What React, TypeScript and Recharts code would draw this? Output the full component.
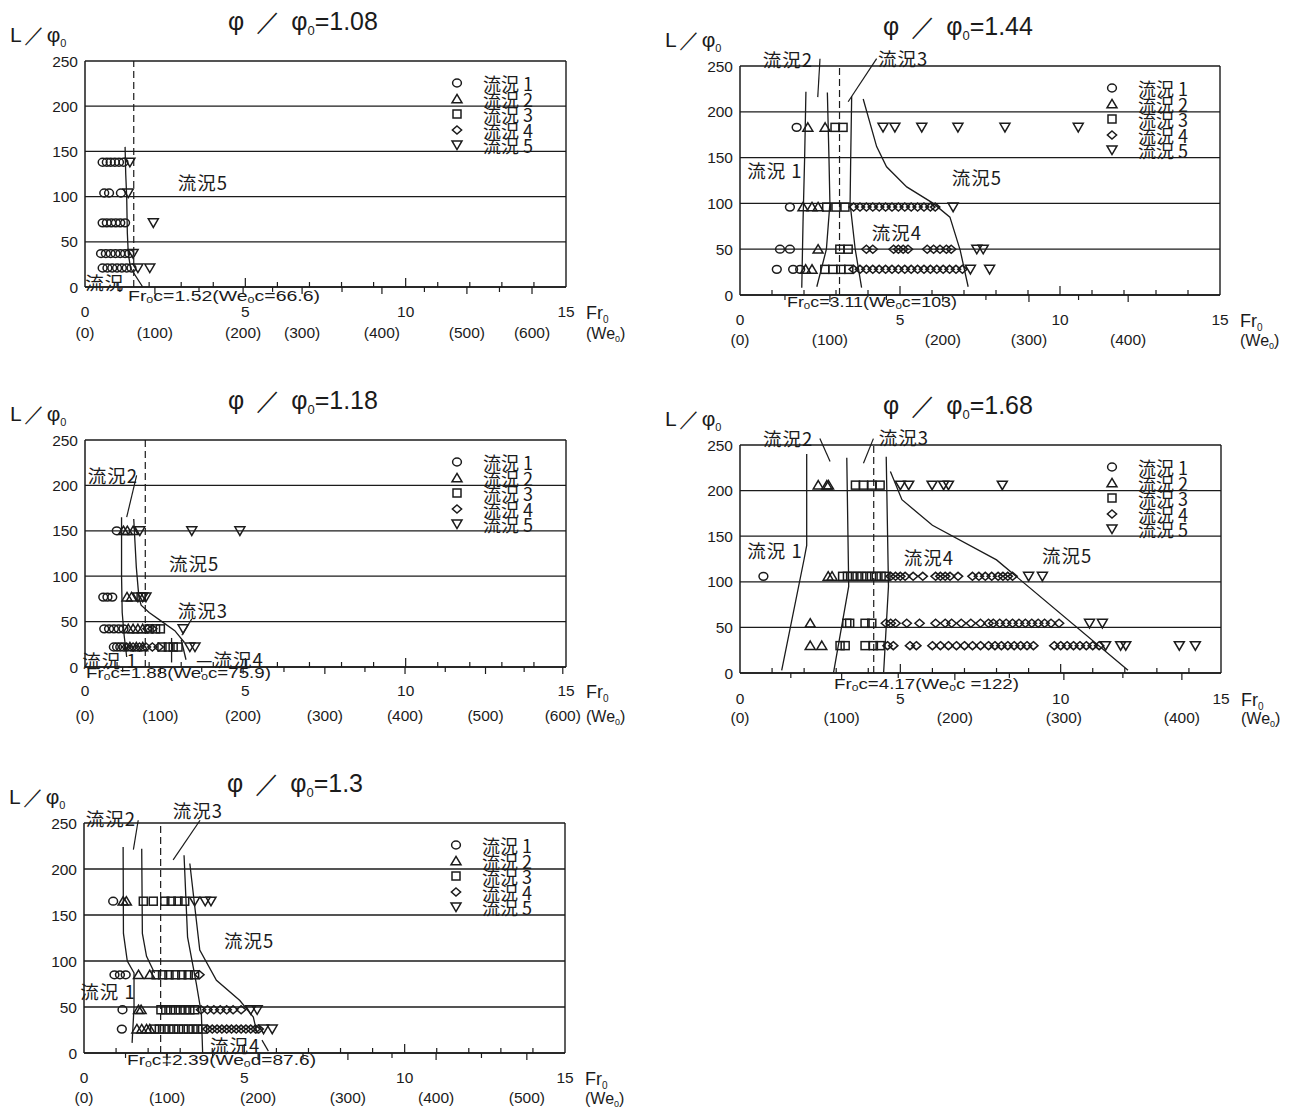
import React from 'react';
import {
  ScatterChart,
  Scatter,
  XAxis,
  YAxis,
  CartesianGrid,
  ReferenceLine,
  ReferenceDot,
  Legend,
} from 'recharts';

type Pair = [number, number];

const INK = '#1b1b1b';
const NUM = '"Liberation Sans", Arial, sans-serif';
const JP = '"Noto Sans CJK JP", sans-serif';

const frTicks = [0, 1, 2, 3, 4, 5, 6, 7, 8, 9, 10, 11, 12, 13, 14, 15];
const lTicks = [0, 50, 100, 150, 200, 250];
const flowNames = ['流況 1', '流況 2', '流況 3', '流況 4', '流況 5'];

// row helper: same L/φ0 for a list of Fr0 values
const row = (l: number, xs: number[]): Pair[] => xs.map((x) => [x, l]);

// ---- φ/φ0 = 1.08 ----
const r108Flow1: Pair[] = [
  ...row(138, [0.55, 0.68, 0.8, 0.93, 1.06, 1.2]),
  ...row(104, [0.6, 0.75, 1.12]),
  ...row(71, [0.55, 0.68, 0.82, 0.96, 1.1, 1.25]),
  ...row(37, [0.5, 0.65, 0.8, 0.95, 1.1, 1.25, 1.38]),
  ...row(21, [0.55, 0.7, 0.85, 1.0, 1.15, 1.3, 1.45]),
];
const r108Flow5: Pair[] = [[1.4, 138], [1.35, 104], [2.13, 71], [1.5, 37], [1.65, 21], [2.02, 21]];
const r108Bounds: Pair[][] = [[[1.25, 155], [1.27, 125], [1.3, 100], [1.32, 60], [1.35, 37], [1.42, 21], [1.8, 0]]];
const r108WeAt = [0, 2.18, 4.93, 6.77, 9.26, 11.91, 13.94];
const r108WeText = ['(0)', '(100)', '(200)', '(300)', '(400)', '(500)', '(600)'];

// ---- φ/φ0 = 1.44 ----
const r144Flow1: Pair[] = [[1.77, 183], [1.56, 96], [1.25, 50], [1.56, 50], [1.15, 28], [1.66, 28], [1.88, 28]];
const r144Flow2: Pair[] = [[2.12, 183], [2.66, 183], [1.97, 96], [2.25, 96], [2.44, 96], [2.44, 50], [2.05, 28], [2.25, 28]];
const r144Flow3: Pair[] = [
  [2.97, 183], [3.22, 183], [2.71, 96], [3.0, 96], [3.28, 96], [3.12, 50], [3.38, 50],
  [2.65, 28], [2.9, 28], [3.15, 28], [3.4, 28],
];
const r144Flow4: Pair[] = [
  ...row(96, [3.55, 3.75, 3.95, 4.15, 4.35, 4.55, 4.75, 4.95, 5.15, 5.35, 5.55, 5.75, 5.95, 6.1]),
  ...row(50, [3.95, 4.15, 4.8, 4.95, 5.1, 5.25, 5.85, 6.05, 6.25, 6.45, 6.6]),
  ...row(28, [3.55, 3.75, 3.95, 4.15, 4.35, 4.55, 4.75, 4.95, 5.15, 5.35, 5.55, 5.75, 5.95, 6.15, 6.35, 6.55, 6.75, 6.95]),
];
const r144Flow5: Pair[] = [
  [4.47, 183], [4.84, 183], [5.68, 183], [6.81, 183], [8.28, 183], [10.57, 183],
  [6.66, 96], [7.4, 50], [7.6, 50], [7.2, 28], [7.8, 28],
];
const r144Bounds: Pair[][] = [
  [[2.06, 222], [2.02, 150], [1.97, 80], [1.93, 8]],
  [[2.73, 221], [2.78, 150], [2.81, 100], [2.7, 50], [2.4, 9]],
  [[3.49, 217], [3.46, 150], [3.44, 100], [3.6, 50], [3.8, 8]],
  [[3.85, 214], [4.27, 162], [4.58, 140], [5.21, 118], [6.04, 100], [6.56, 85], [6.88, 49], [7.13, 9]],
];
const r144Leaders: Pair[][] = [[[2.5, 258], [2.43, 216]], [[4.27, 258], [3.38, 211]]];
const r144WeAt = [0, 2.81, 6.34, 9.03, 12.13];
const r144WeText = ['(0)', '(100)', '(200)', '(300)', '(400)'];

// ---- φ/φ0 = 1.18 ----
const r118Flow1: Pair[] = [
  [0.99, 150], ...row(77, [0.57, 0.7, 0.85]), ...row(42, [0.6, 0.75, 0.9, 1.05, 1.2]), ...row(22, [0.9, 1.0, 1.1, 1.2]),
];
const r118Flow2: Pair[] = [
  ...row(150, [1.2, 1.32, 1.5]), ...row(77, [1.31, 1.45]), ...row(42, [1.35, 1.5, 1.65, 1.8]), ...row(22, [1.4, 1.6, 1.8]),
];
const r118Flow3: Pair[] = [[1.75, 77], ...row(42, [2.0, 2.2, 2.35]), ...row(22, [2.4, 2.6, 2.75, 2.9])];
const r118Flow4: Pair[] = [...row(42, [1.95, 2.1]), ...row(22, [1.3, 1.5, 1.7, 1.9, 2.1, 2.3])];
const r118Flow5: Pair[] = [[1.71, 150], [3.33, 150], [4.83, 150], [1.65, 77], [1.8, 77], [1.9, 77], [3.06, 42], [3.27, 22], [3.43, 22]];
const r118Bounds: Pair[][] = [
  [[1.14, 165], [1.14, 100], [1.16, 60], [1.22, 35], [1.3, 11]],
  [[1.52, 163], [1.6, 110], [1.68, 77], [1.75, 68], [2.0, 60], [2.4, 50], [2.8, 40], [3.1, 27]],
  [[2.7, 32], [2.7, 5]],
  [[3.0, 30], [3.15, 8]],
];
const r118Leaders: Pair[][] = [[[1.61, 211], [1.3, 165]], [[3.33, 53], [3.02, 35]]];
const r118WeAt = [0, 2.35, 4.93, 7.48, 9.98, 12.49, 14.9];
const r118WeText = ['(0)', '(100)', '(200)', '(300)', '(400)', '(500)', '(600)'];

// ---- φ/φ0 = 1.68 ----
const r168Flow1: Pair[] = [[0.73, 106]];
const r168Flow2: Pair[] = [[2.44, 206], [2.71, 206], [2.76, 206], [2.75, 106], [2.87, 106], [2.19, 54.5], [2.19, 30], [2.55, 30]];
const r168Flow3: Pair[] = [
  ...row(206, [3.6, 3.85, 4.11, 4.37]),
  ...row(106, [3.2, 3.35, 3.5, 3.65, 3.8, 3.95, 4.1, 4.25, 4.4, 4.55]),
  ...row(54.5, [3.33, 3.42, 3.9, 4.11]),
  ...row(30, [3.12, 3.28, 3.9, 4.16, 4.37]),
];
const r168Flow4: Pair[] = [
  ...row(106, [4.7, 4.85, 5.0, 5.15, 5.4, 5.7, 6.1, 6.25, 6.4, 6.55, 6.8, 7.25, 7.45, 7.65, 7.85, 8.05, 8.2, 8.35, 8.5]),
  ...row(54.5, [4.55, 4.7, 4.85, 5.2, 5.6, 6.1, 6.4, 6.6, 6.9, 7.2, 7.5, 7.75, 7.9, 8.1, 8.3, 8.5, 8.7, 8.9, 9.1, 9.3, 9.5, 9.7, 9.95]),
  ...row(30, [4.6, 4.78, 5.3, 5.5, 6.0, 6.25, 6.5, 6.75, 7.0, 7.25, 7.5, 7.75, 7.95, 8.15, 8.35, 8.55, 8.75, 8.95, 9.15, 9.8, 10.0, 10.2, 10.4, 10.6, 10.8, 11.0, 11.2]),
];
const r168Flow5: Pair[] = [
  [5.0, 206], [5.26, 206], [5.99, 206], [6.35, 206], [6.5, 206], [8.18, 206],
  [9.0, 106], [9.43, 106], [10.9, 54.5], [11.3, 54.5],
  [11.4, 30], [11.87, 30], [12.03, 30], [13.7, 30], [14.2, 30],
];
const r168Bounds: Pair[][] = [
  [[2.08, 240], [2.08, 140], [2.0, 125], [1.3, 3]],
  [[3.33, 236], [3.39, 95], [2.92, 1]],
  [[4.56, 237], [4.63, 95], [4.48, 1]],
  [[4.69, 221], [5.05, 190], [6.0, 162], [8.0, 124], [12.1, 3]],
];
const r168Leaders: Pair[][] = [[[2.49, 257], [2.81, 232]], [[4.16, 257], [3.85, 230]]];
const r168WeAt = [0, 3.17, 6.7, 10.1, 13.78];
const r168WeText = ['(0)', '(100)', '(200)', '(300)', '(400)'];

// ---- φ/φ0 = 1.3 ----
const r130Flow1: Pair[] = [[0.91, 165], [0.95, 85], [1.12, 85], [1.3, 85], [1.2, 47], [1.18, 26]];
const r130Flow2: Pair[] = [
  [1.22, 165], [1.32, 165], [1.7, 85], [2.05, 85], [1.7, 47], [1.78, 47], ...row(26, [1.65, 1.8, 1.95, 2.05]),
];
const r130Flow3: Pair[] = [
  ...row(165, [1.85, 2.16, 2.52, 2.72, 2.93, 3.14]),
  ...row(85, [2.25, 2.45, 2.65, 2.85, 3.05, 3.25, 3.45]),
  ...row(47, [2.4, 2.55, 2.7, 2.85, 3.0, 3.15, 3.3, 3.45]),
  ...row(26, [2.2, 2.35, 2.5, 2.65, 2.8, 2.95, 3.1, 3.25, 3.4, 3.55, 3.7]),
];
const r130Flow4: Pair[] = [
  [3.6, 85],
  ...row(47, [3.65, 3.85, 4.05, 4.25, 4.45, 4.65, 4.9]),
  ...row(26, [3.85, 4.0, 4.15, 4.3, 4.45, 4.6, 4.75, 4.9, 5.05, 5.2, 5.35, 5.45]),
];
const r130Flow5: Pair[] = [[3.45, 165], [3.78, 165], [3.96, 165], [5.2, 47], [5.4, 47], [5.6, 26], [5.87, 26]];
const r130Bounds: Pair[][] = [
  [[1.22, 224], [1.23, 130], [1.35, 100], [1.56, 87], [1.56, 50], [1.5, 11]],
  [[1.8, 222], [1.82, 130], [1.95, 105], [2.2, 87]],
  [[3.12, 215], [3.23, 126], [3.5, 76], [3.66, 43], [3.7, 0]],
  [[3.3, 206], [3.61, 112], [4.13, 79], [4.86, 57], [5.28, 39], [5.4, 21]],
];
const r130Leaders: Pair[][] = [[[1.69, 253], [1.54, 221]], [[3.62, 253], [2.78, 210]], [[5.55, 14], [5.75, 2]]];
const r130WeAt = [0, 2.59, 5.43, 8.23, 10.98, 13.81];
const r130WeText = ['(0)', '(100)', '(200)', '(300)', '(400)', '(500)'];

interface PanelSpec {
  ratio: string;
  box: { l: number; t: number; r: number; b: number };
  flows: Pair[][];
  bounds: Pair[][];
  leaders: Pair[][];
  regions: { text: string; at: Pair }[];
  crit: number;
  frcA: string;
  frcB: string;
  frcAt: [number, number, number];
  weAt: number[];
  weText: string[];
  lblDy: number;
  weDy: number;
}

const panels: PanelSpec[] = [
  {
    ratio: '1.08', box: { l: 85, t: 61, r: 566, b: 287 },
    flows: [r108Flow1, [], [], [], r108Flow5], bounds: r108Bounds, leaders: [],
    regions: [{ text: '流況5', at: [3.68, 116] }, { text: '流況', at: [0.62, 5.5] }],
    crit: 1.52, frcA: 'c=1.52(We', frcB: 'c=66.6)', frcAt: [43, 14, 192],
    weAt: r108WeAt, weText: r108WeText, lblDy: 24, weDy: 45,
  },
  {
    ratio: '1.44', box: { l: 740, t: 66, r: 1220, b: 295 },
    flows: [r144Flow1, r144Flow2, r144Flow3, r144Flow4, r144Flow5], bounds: r144Bounds, leaders: r144Leaders,
    regions: [
      { text: '流況2', at: [1.5, 258] }, { text: '流況3', at: [5.1, 259] }, { text: '流況 1', at: [1.09, 136] },
      { text: '流況5', at: [7.4, 129] }, { text: '流況4', at: [4.9, 69] },
    ],
    crit: 3.11, frcA: 'c=3.11(We', frcB: 'c=103)', frcAt: [47, 12, 170],
    weAt: r144WeAt, weText: r144WeText, lblDy: 24, weDy: 44,
  },
  {
    ratio: '1.18', box: { l: 85, t: 440, r: 566, b: 667 },
    flows: [r118Flow1, r118Flow2, r118Flow3, r118Flow4, r118Flow5], bounds: r118Bounds, leaders: r118Leaders,
    regions: [
      { text: '流況2', at: [0.87, 212] }, { text: '流況5', at: [3.4, 114] }, { text: '流況3', at: [3.68, 63] },
      { text: '—流況4', at: [4.52, 9] }, { text: '流況 1', at: [0.78, 8] },
    ],
    crit: 1.88, frcA: 'c=1.88(We', frcB: 'c=75.9)', frcAt: [1, 11, 185],
    weAt: r118WeAt, weText: r118WeText, lblDy: 23, weDy: 48,
  },
  {
    ratio: '1.68', box: { l: 740, t: 445, r: 1221, b: 673 },
    flows: [r168Flow1, r168Flow2, r168Flow3, r168Flow4, r168Flow5], bounds: r168Bounds, leaders: r168Leaders,
    regions: [
      { text: '流況2', at: [1.5, 258] }, { text: '流況3', at: [5.11, 259] }, { text: '流況 1', at: [1.09, 135] },
      { text: '流況4', at: [5.89, 127] }, { text: '流況5', at: [10.2, 129] },
    ],
    crit: 4.17, frcA: 'c=4.17(We', frcB: 'c =122)', frcAt: [94, 16, 185],
    weAt: r168WeAt, weText: r168WeText, lblDy: 25, weDy: 44,
  },
  {
    ratio: '1.3', box: { l: 84, t: 823, r: 565, b: 1053 },
    flows: [r130Flow1, r130Flow2, r130Flow3, r130Flow4, r130Flow5], bounds: r130Bounds, leaders: r130Leaders,
    regions: [
      { text: '流況2', at: [0.84, 255] }, { text: '流況3', at: [3.55, 264] }, { text: '流況5', at: [5.15, 123] },
      { text: '流況 1', at: [0.75, 67] }, { text: '流況4', at: [4.71, 9] },
    ],
    crit: 2.39, frcA: 'c‡2.39(We', frcB: 'd=87.6)', frcAt: [43, 12, 189],
    weAt: r130WeAt, weText: r130WeText, lblDy: 24, weDy: 44,
  },
];

function Mark({ kind, cx, cy }: { kind: number; cx: number; cy: number }) {
  const st = { fill: 'none', stroke: INK, strokeWidth: 1.5 };
  if (kind === 1) return <ellipse cx={cx} cy={cy} rx={4.4} ry={3.9} {...st} />;
  if (kind === 2) return <path d={`M${cx},${cy - 4.6}L${cx + 5},${cy + 3.8}L${cx - 5},${cy + 3.8}Z`} {...st} />;
  if (kind === 3) return <rect x={cx - 4} y={cy - 4} width={8} height={8} {...st} />;
  if (kind === 4) return <path d={`M${cx},${cy - 4}L${cx + 4.6},${cy}L${cx},${cy + 4}L${cx - 4.6},${cy}Z`} {...st} />;
  return <path d={`M${cx - 5},${cy - 4}L${cx + 5},${cy - 4}L${cx},${cy + 4.6}Z`} {...st} />;
}

function FlowLegend() {
  return (
    <div style={{ position: 'relative', width: 120, height: 82 }}>
      {flowNames.map((n, i) => (
        <div key={n} style={{ position: 'absolute', left: 0, top: i * 15.5, height: 16, display: 'flex', alignItems: 'center' }}>
          <svg width={12} height={12} style={{ overflow: 'visible' }}>
            <Mark kind={i + 1} cx={6} cy={6} />
          </svg>
          <span style={{ marginLeft: 20, fontFamily: JP, fontSize: 18, lineHeight: '16px', color: INK, whiteSpace: 'pre' }}>{n}</span>
        </div>
      ))}
    </div>
  );
}

const key = (v: number) => v.toFixed(3);

function FlowPanel({ p }: { p: PanelSpec }) {
  const { l, t, r, b } = p.box;
  const ML = 85, MT = 40, MR = 70, MB = 60;
  const toPts = (a: Pair[]) => a.map(([x, y]) => ({ x, y }));

  // Fr0 ticks and the We0 scale share one axis: We0 labels sit at their own positions
  const weMid = p.weAt.slice(1).map((v, i) => (v + p.weAt[i]) / 2);
  const weIdx = new Map(p.weAt.map((v, i) => [key(v), i]));
  const midSet = new Set(weMid.map(key));
  const frSet = new Set(frTicks.map(key));
  const allTicks = Array.from(new Set([...frTicks, ...p.weAt, ...weMid].map(key))).map(Number).sort((a, c) => a - c);

  const axisTick = (props: any) => {
    const { x, y, payload } = props;
    const v = payload.value as number;
    const k = key(v);
    const isFr = frSet.has(k);
    const major = isFr && v % 5 === 0;
    const wi = weIdx.get(k);
    return (
      <g>
        {isFr && v > 0 && v < 15 && <line x1={x} x2={x} y1={y} y2={y - (major ? 9 : 5)} stroke={INK} strokeWidth={1.2} />}
        {major && (
          <text x={x} y={y + p.lblDy} textAnchor="middle" dominantBaseline="central" fontSize={15.5} fontFamily={NUM} fill={INK}>
            {v}
          </text>
        )}
        {(midSet.has(k) || (wi !== undefined && wi > 0)) && v < 15 && (
          <line x1={x} x2={x} y1={y} y2={y + (wi !== undefined ? 7 : 5)} stroke={INK} strokeWidth={1.2} />
        )}
        {wi !== undefined && (
          <text x={x} y={y + p.weDy} textAnchor="middle" dominantBaseline="central" fontSize={15.5} fontFamily={NUM} fill={INK}>
            {p.weText[wi]}
          </text>
        )}
      </g>
    );
  };

  return (
    <>
      <div style={{ position: 'absolute', left: l - ML, top: t - MT }}>
        <ScatterChart width={r - l + ML + MR} height={b - t + MT + MB} margin={{ top: MT, right: MR, left: 0, bottom: MB - 50 }}>
          <CartesianGrid vertical={false} stroke={INK} strokeWidth={1.3} />
          <XAxis
            type="number" dataKey="x" domain={[0, 15]} ticks={allTicks} interval={0} height={50}
            tickSize={0} tickMargin={0} tickLine={false} tick={axisTick}
            axisLine={{ stroke: INK, strokeWidth: 1.5 }}
          />
          <YAxis
            type="number" dataKey="y" domain={[0, 250]} ticks={lTicks} interval={0} width={ML}
            tickSize={0} tickMargin={7} tickLine={false}
            axisLine={{ stroke: INK, strokeWidth: 1.5 }}
            tick={{ fontSize: 15.5, fill: INK, fontFamily: NUM }}
          />
          <ReferenceLine x={15} stroke={INK} strokeWidth={1.4} />
          <ReferenceLine x={p.crit} stroke={INK} strokeWidth={1.2} strokeDasharray="7 4" />
          {p.bounds.map((ln, i) => (
            <Scatter
              key={'b' + i} data={toPts(ln)} line={{ stroke: INK, strokeWidth: 1.3 }} lineType="joint"
              shape={() => <g />} legendType="none" isAnimationActive={false}
            />
          ))}
          {p.flows.map((f, i) => (
            <Scatter
              key={'f' + i} name={flowNames[i]} data={toPts(f)} isAnimationActive={false}
              shape={(s: any) => <Mark kind={i + 1} cx={s.cx} cy={s.cy} />}
            />
          ))}
          {p.leaders.map((ln, i) => (
            <ReferenceLine
              key={'l' + i} segment={ln.map(([x, y]) => ({ x, y }))} stroke={INK} strokeWidth={1.2} ifOverflow="visible"
            />
          ))}
          {p.regions.map((g, i) => (
            <ReferenceDot
              key={'r' + i} x={g.at[0]} y={g.at[1]} ifOverflow="visible"
              shape={(s: any) => (
                <text
                  x={s.cx} y={s.cy} textAnchor="middle" dominantBaseline="central" fontSize={18.5} fontFamily={JP}
                  fill={INK} letterSpacing={1} style={{ whiteSpace: 'pre' }}
                >
                  {g.text}
                </text>
              )}
            />
          ))}
          <Legend
            layout="vertical" align="center" verticalAlign="middle" content={() => <FlowLegend />}
            wrapperStyle={{ left: ML + 366, top: MT + 14, width: 130 }}
          />
        </ScatterChart>
      </div>
      <svg width={1294} height={1110} style={{ position: 'absolute', left: 0, top: 0, pointerEvents: 'none' }}>
        <text x={l + 143} y={t - 31} fontSize={25} fontFamily={NUM} fill={INK} style={{ whiteSpace: 'pre' }}>
          φ
          <tspan dx={12}>／</tspan>
          <tspan dx={10}>φ</tspan>
          <tspan fontSize={13} dy={5}>0</tspan>
          <tspan dy={-5}>{'=' + p.ratio}</tspan>
        </text>
        <text x={l - 75} y={t - 19} fontSize={21} fontFamily={NUM} fill={INK}>
          L<tspan dx={2}>／</tspan>
          <tspan dx={2}>φ</tspan>
          <tspan fontSize={11} dy={5}>0</tspan>
        </text>
        <text
          x={l + p.frcAt[0]} y={b + p.frcAt[1]} fontSize={14} fontFamily={NUM} fill={INK}
          textLength={p.frcAt[2]} lengthAdjust="spacingAndGlyphs"
        >
          Fr<tspan fontSize={9} dy={2}>0</tspan>
          <tspan dy={-2}>{p.frcA}</tspan>
          <tspan fontSize={9} dy={2}>0</tspan>
          <tspan dy={-2}>{p.frcB}</tspan>
        </text>
        <text x={r + 20} y={b + p.lblDy + 8} fontSize={18} fontFamily={NUM} fill={INK}>
          Fr<tspan fontSize={10} dy={4}>0</tspan>
        </text>
        <text x={r + 20} y={b + p.weDy + 7} fontSize={16} fontFamily={NUM} fill={INK}>
          (We<tspan fontSize={9} dy={3}>0</tspan>
          <tspan dy={-3}>)</tspan>
        </text>
      </svg>
    </>
  );
}

export default function App() {
  return (
    <div style={{ position: 'absolute', left: 0, top: 0, width: 1294, height: 1110, overflow: 'hidden', background: '#fff' }}>
      {panels.map((p) => (
        <FlowPanel key={p.ratio} p={p} />
      ))}
    </div>
  );
}
